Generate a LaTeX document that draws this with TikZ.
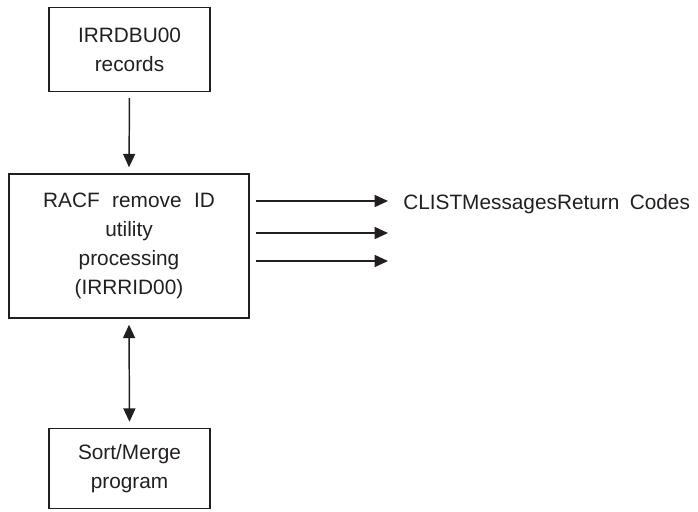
\documentclass[tikz,border=0pt]{standalone}
\usepackage{fontspec}
\setmainfont{Liberation Sans}
\usetikzlibrary{arrows.meta}
\definecolor{ink}{HTML}{231F20}
\begin{document}
\begin{tikzpicture}[x=0.75pt,y=-0.75pt,
  box/.style={draw=ink, text=ink, line width=1.1pt, align=center, inner sep=0pt,
    font=\fontsize{15.6}{21.75}\selectfont},
  conn/.style={draw=ink, line width=1.1pt, -{Triangle[length=10pt,width=9pt]}},
  dconn/.style={draw=ink, line width=1.1pt, {Triangle[length=10pt,width=9pt]}-{Triangle[length=10pt,width=9pt]}},
  lbl/.style={text=ink, font=\fontsize{15.6}{21.75}\selectfont, inner sep=0pt}]
\useasboundingbox (0,0) rectangle (698,511);
\node[box, minimum width=161*0.75pt, minimum height=84*0.75pt] (rec) at (129.5,49.5) {IRRDBU00\\records};
\node[box, minimum width=240*0.75pt, minimum height=144*0.75pt] (proc) at (129,246) {RACF\hspace{0.6em}remove\hspace{0.6em}ID\\utility\\processing\\(IRRRID00)};
\node[box, minimum width=161*0.75pt, minimum height=80*0.75pt] (sort) at (129.5,468.5) {Sort/Merge\\program};
\draw[conn, shorten <=4.5pt, shorten >=4.5pt] (rec.south) -- (proc.north);
\draw[dconn, shorten <=4.5pt, shorten >=4.5pt] (proc.south) -- (sort.north);
\coordinate (o1) at (388,201);
\coordinate (o2) at (388,233);
\coordinate (o3) at (388,261);
\draw[conn, shorten <=5pt] (proc.east |- o1) -- (o1);
\draw[conn, shorten <=5pt] (proc.east |- o2) -- (o2);
\draw[conn, shorten <=5pt] (proc.east |- o3) -- (o3);
\node[lbl, anchor=base west] (out) at (403,209) {CLISTMessagesReturn\hspace{0.5em}Codes};
\end{tikzpicture}
\end{document}
